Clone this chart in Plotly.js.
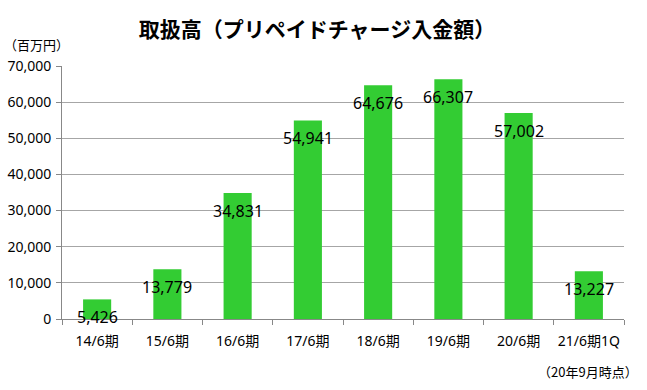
<!DOCTYPE html>
<html>
<head>
<meta charset="utf-8">
<script src="https://cdn.plot.ly/plotly-3.0.1.min.js"></script>
<style>html,body{margin:0;padding:0;background:#fff;}#chart{width:647px;height:390px;}</style>
</head>
<body>
<div id="chart"></div>
<script>
const categories = ["14/6期", "15/6期", "16/6期", "17/6期", "18/6期", "19/6期", "20/6期", "21/6期1Q"];
const values = [5426, 13779, 34831, 54941, 64676, 66307, 57002, 13227];
const yTickVals = [0, 10000, 20000, 30000, 40000, 50000, 60000, 70000];
const titleText = "取扱高（プリペイドチャージ入金額）";
const unitText = "（百万円）";
const noteText = "（20年9月時点）";

const FONT = "'Noto Sans', 'Noto Sans CJK JP', sans-serif";

const trace = {
  type: "bar",
  x: categories,
  y: values,
  marker: {color: "#33CC33"},
  hoverinfo: "none"
};

const labelAnn = categories.map((c, i) => ({
  x: c, y: values[i], xref: "x", yref: "y",
  text: values[i].toLocaleString("en-US"),
  showarrow: false, yanchor: "middle", xanchor: "center", yshift: -18,
  font: {family: FONT, size: 16, color: "#000"}
}));

const layout = {
  width: 647, height: 390, autosize: false,
  margin: {l: 62, r: 23, t: 66, b: 71},
  paper_bgcolor: "#fff", plot_bgcolor: "#fff",
  showlegend: false,
  bargap: 0.6,
  font: {family: FONT, size: 14, color: "#000"},
  title: {
    text: titleText,
    font: {family: "'Noto Sans CJK JP', sans-serif", size: 21, color: "#000", weight: "bold"},
    xref: "container", x: 0.49, xanchor: "center",
    yref: "container", y: 1 - 30/390, yanchor: "middle"
  },
  xaxis: {
    type: "category",
    showline: true, linecolor: "#888", linewidth: 1,
    ticks: "outside", tickson: "boundaries", ticklen: 5, tickcolor: "#888",
    showgrid: false, zeroline: false,
    tickangle: 0,
    ticklabelstandoff: 9,
    tickfont: {family: FONT, size: 14, color: "#000"}
  },
  yaxis: {
    range: [0, 70000],
    tickvals: yTickVals,
    tickformat: ",d",
    showline: true, linecolor: "#888", linewidth: 1,
    ticks: "outside", ticklen: 5, tickcolor: "#888",
    showgrid: true, gridcolor: "#a6a6a6", gridwidth: 1,
    zeroline: false,
    ticklabelstandoff: 2,
    tickfont: {family: FONT, size: 14, color: "#000"}
  },
  annotations: labelAnn.concat([
    {text: unitText, xref: "paper", yref: "paper", x: -60/562, y: 1 + 22/253,
     xanchor: "left", yanchor: "middle", showarrow: false,
     font: {family: "'Noto Sans CJK JP', sans-serif", size: 13, color: "#000"}},
    {text: noteText, xref: "paper", yref: "paper", x: 1 + 16/562, y: -52/253,
     xanchor: "right", yanchor: "middle", showarrow: false,
     font: {family: "'Noto Sans CJK JP', sans-serif", size: 13, color: "#000"}}
  ])
};

Plotly.newPlot("chart", [trace], layout, {staticPlot: true, displayModeBar: false});
</script>
</body>
</html>
